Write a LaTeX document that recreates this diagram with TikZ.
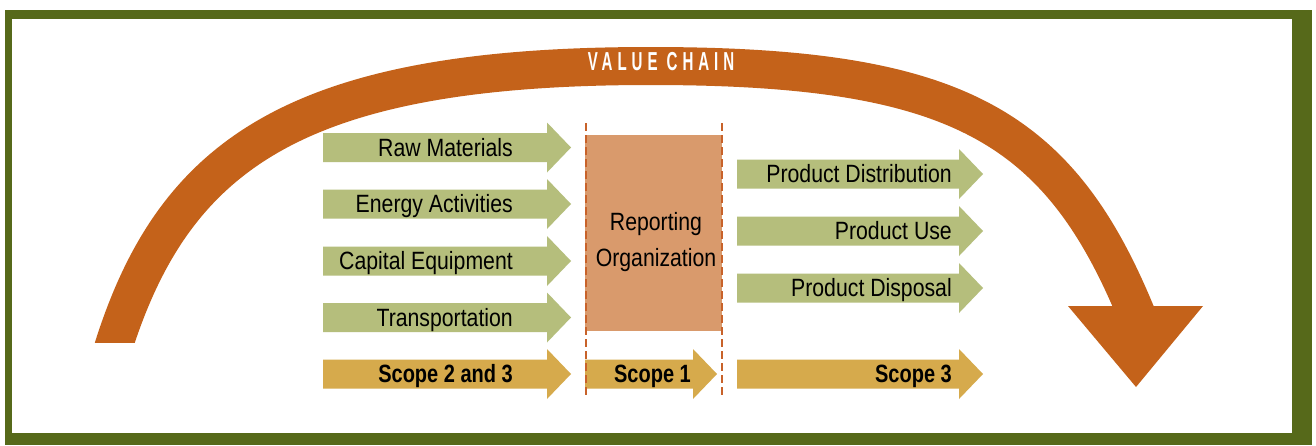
\documentclass[tikz,border=0pt]{standalone}
\usepackage{fontspec}
\setmainfont{Liberation Sans}[FakeStretch=0.85,BoldFeatures={FakeStretch=0.8}]
\newfontfamily\bannerfont{Liberation Sans}[FakeStretch=0.58,LetterSpace=19]

\definecolor{framegreen}{RGB}{86,105,26}
\definecolor{chainorange}{RGB}{196,98,26}
\definecolor{inputgreen}{RGB}{181,190,124}
\definecolor{scopegold}{RGB}{214,170,76}
\definecolor{orgfill}{RGB}{217,154,108}
\definecolor{dashorange}{RGB}{200,98,42}

\tikzset{
  arrowtext/.style={anchor=base east,inner sep=0pt,text=black,font=\fontsize{25}{30}\selectfont},
  scopetext/.style={arrowtext,font=\fontsize{25}{30}\selectfont\bfseries},
  dashline/.style={dashorange,line width=2pt,dash pattern=on 8pt off 4pt}
}

% block arrow: fill, left x, tip x, centre y
\newcommand{\blockarrow}[4]{%
  \fill[#1] (#2,#4-14.5) -- (#3-24,#4-14.5) -- (#3-24,#4-25) -- (#3,#4)
    -- (#3-24,#4+25) -- (#3-24,#4+14.5) -- (#2,#4+14.5) -- cycle;}

\begin{document}
\begin{tikzpicture}[x=1pt,y=-1pt]
  \useasboundingbox (0,0) rectangle (1316,445);
  % frame
  \fill[framegreen] (5,10) rectangle (1312,445);
  \fill[white] (12,19) rectangle (1292,433);

  % value chain arc
  \begin{scope}
    \clip (0,0) rectangle (1316,342);
    \draw[chainorange,line width=38pt] (109,361) -- (115,342)
      .. controls (177,152) and (300,66) .. (650,66)
      .. controls (950,66) and (1055,122) .. (1133,306) -- (1141,325);
  \end{scope}
  \fill[chainorange] (1068,306) -- (1203,306) -- (1136,387) -- cycle;
  \node[text=white,font=\bannerfont\bfseries\fontsize{26}{30}\selectfont] (chain) at (661,62) {VALUE CHAIN};

  % upstream inputs
  \foreach \y/\txt/\n in {147.5/Raw Materials/raw,204/Energy Activities/energy,
      261/Capital Equipment/capital,317.5/Transportation/transport}
  {
    \blockarrow{inputgreen}{323}{571}{\y}
    \node[arrowtext] (\n) at (513,\y+8.5) {\txt};
  }

  % downstream outputs
  \foreach \y/\txt/\n in {174/Product Distribution/distribution,231/Product Use/use,
      288/Product Disposal/disposal}
  {
    \blockarrow{inputgreen}{737}{983}{\y}
    \node[arrowtext] (\n) at (952,\y+8.5) {\txt};
  }

  % reporting organization
  \fill[orgfill] (585,135) rectangle (722,331);
  \node[align=center,inner sep=0pt,font=\fontsize{25}{36.5}\selectfont] (org) at (656,242) {Reporting\\Organization};

  % scopes
  \blockarrow{scopegold}{323}{571}{374}
  \node[scopetext] (scopeup) at (513,382.5) {Scope 2 and 3};
  \blockarrow{scopegold}{585}{717}{374}
  \node[scopetext] (scopeone) at (691,382.5) {Scope 1};
  \blockarrow{scopegold}{737}{983}{374}
  \node[scopetext] (scopedown) at (952,382.5) {Scope 3};

  % boundary of the reporting organization
  \draw[dashline] (585.5,123) -- (585.5,397);
  \draw[dashline] (721.5,123) -- (721.5,397);
\end{tikzpicture}
\end{document}
